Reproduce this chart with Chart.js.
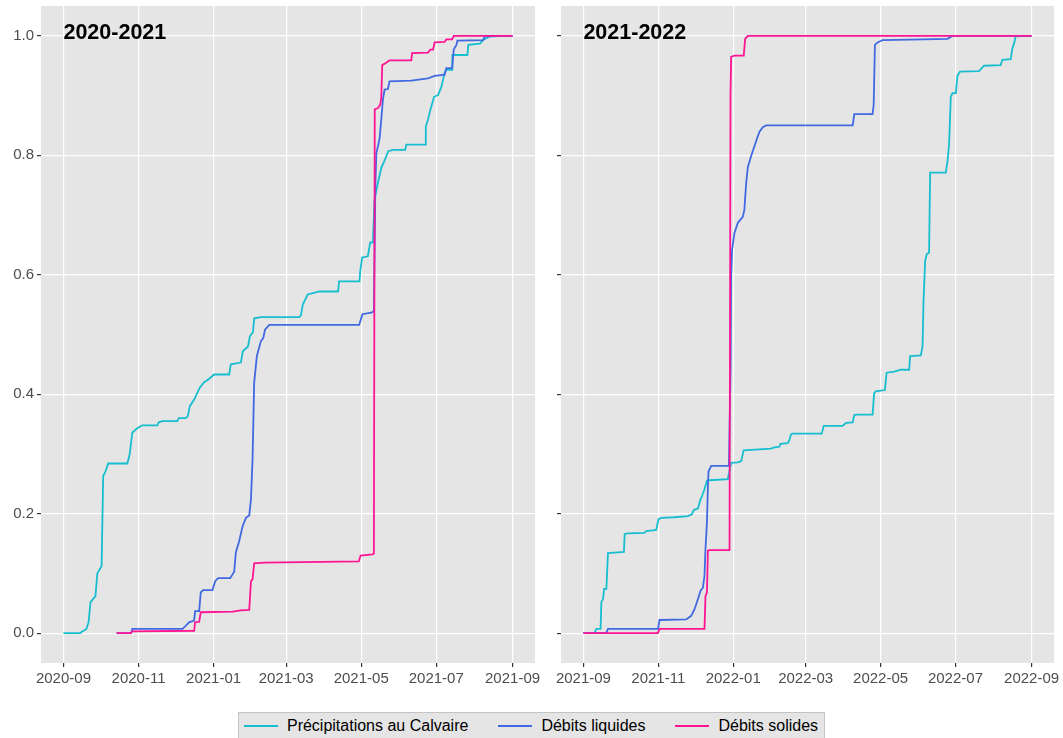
<!DOCTYPE html>
<html lang="fr">
<head>
<meta charset="utf-8">
<title>Cumuls normalisés</title>
<script src="https://cdn.jsdelivr.net/npm/chart.js@4.4.1/dist/chart.umd.min.js"></script>
<style>
  body { margin: 0; background: #fff; font-family: "Liberation Sans", Arial, sans-serif; }
  #wrap { position: relative; width: 1063px; height: 738px; overflow: hidden; }
  #c1 { position: absolute; left: 0; top: 0; }
  #c2 { position: absolute; left: 540px; top: 0; }
  #legend { position: absolute; left: 0; top: 712px; width: 1063px; display: flex; justify-content: center; }
  #legend .box { display: flex; align-items: center; height: 25px; padding: 0 6px 0 5px;
                 background: #E5E5E5; border: 1px solid #C4C4C4; font-size: 16px; color: #000; }
  .item { display: flex; align-items: center; margin-right: 30px; }
  .item:last-child { margin-right: 0; }
  .key { width: 34px; height: 2px; margin-right: 9px; }
</style>
</head>
<body>
<div id="wrap">
  <canvas id="c1" width="550" height="720"></canvas>
  <canvas id="c2" width="523" height="720"></canvas>
  <div id="legend"><div class="box"></div></div>
</div>
<script>
// --- Séries (x : jours depuis le 1er septembre, y : cumul normalisé) ---
const seriesNames = ['Précipitations au Calvaire', 'Débits liquides', 'Débits solides'];
const seriesColors = ['#17BECF', '#4169E1', '#FF1493'];
const yTicks = [0, 0.2, 0.4, 0.6, 0.8, 1.0];

// Saison 2020-2021
const start2021 = '2020-09';
const ticks2021 = ['2020-09', '2020-11', '2021-01', '2021-03', '2021-05', '2021-07', '2021-09'];
const precip2021Jours = [0, 13.9, 14.7, 18.7, 20.4, 22, 26, 27.5, 31, 32.3, 34.2, 36.4, 51.9, 53.8, 56, 60, 64.1, 76.3, 77.4, 80.4,
  92.6, 93.7, 99.4, 101, 102.7, 106.2, 110.8, 114.3, 118, 122.5, 134.7, 136, 144.2, 145.8, 150, 151.5, 154, 155, 160.5, 191.7,
  193, 194.5, 198.5, 208, 223.2, 224, 240.6, 241.2, 242.8, 247.4, 249.3, 251.5, 252.8, 255.6, 258.3, 260.7, 264, 267.8, 277.8, 278.6,
  294.1, 294.5, 296.3, 298.2, 301.2, 304.5, 307.2, 309.8, 311.2, 315.9, 316.1, 328.3, 329.1, 338.4, 341.1, 346.5, 365];
const precip2021 = [0, 0, 0.002, 0.007, 0.018, 0.052, 0.062, 0.100, 0.112, 0.263, 0.271, 0.284, 0.284, 0.299, 0.336, 0.343, 0.348, 0.348, 0.353, 0.355,
  0.355, 0.360, 0.360, 0.363, 0.380, 0.391, 0.411, 0.420, 0.425, 0.433, 0.433, 0.450, 0.453, 0.472, 0.480, 0.497, 0.504, 0.527, 0.529, 0.529,
  0.532, 0.550, 0.567, 0.572, 0.572, 0.589, 0.589, 0.606, 0.629, 0.631, 0.654, 0.654, 0.726, 0.754, 0.779, 0.790, 0.807, 0.809, 0.809, 0.818,
  0.818, 0.848, 0.860, 0.876, 0.898, 0.901, 0.915, 0.938, 0.943, 0.943, 0.968, 0.968, 0.985, 0.987, 0.993, 0.999, 1.0];
const liq2021Jours = [43.2, 55, 56, 96.7, 99.4, 102, 106.2, 107, 110.3, 111.6, 113.5, 121.1, 123.3, 125.7, 135.5, 138.8, 140.1, 142.8, 145.6, 148.3,
  151, 152.4, 153.7, 155, 157.2, 160.5, 162.4, 163.8, 167.3, 240.3, 242, 243, 251, 252.3, 253.5, 254.3, 255.6, 257, 258.3, 259.6,
  261, 263.7, 265, 282.7, 296.3, 301.7, 309.8, 311.2, 315.9, 317.2, 319.4, 320.2, 341.1, 342.4, 365];
const liq2021 = [0, 0, 0.007, 0.007, 0.012, 0.018, 0.021, 0.037, 0.037, 0.068, 0.072, 0.072, 0.087, 0.092, 0.092, 0.103, 0.135, 0.154, 0.179, 0.193,
  0.197, 0.224, 0.291, 0.419, 0.464, 0.489, 0.494, 0.508, 0.516, 0.516, 0.527, 0.534, 0.537, 0.540, 0.75, 0.804, 0.815, 0.829, 0.860, 0.893,
  0.910, 0.911, 0.924, 0.925, 0.929, 0.933, 0.935, 0.946, 0.946, 0.977, 0.985, 0.992, 0.993, 0.999, 1.0];
const sol2021Jours = [43.2, 54.6, 56, 106.2, 107, 110.3, 111.6, 137.5, 144.2, 151, 152.4, 153.7, 155, 163.2, 240, 241.5, 251, 252.3, 253, 255.6,
  257.5, 258.3, 259.1, 262.3, 265, 282.7, 283.3, 296.3, 298.2, 300.4, 301.7, 309.8, 311.2, 315.9, 317.2, 365];
const sol2021 = [0, 0, 0.003, 0.004, 0.018, 0.019, 0.035, 0.036, 0.038, 0.039, 0.087, 0.090, 0.117, 0.118, 0.120, 0.130, 0.132, 0.133, 0.877, 0.879,
  0.885, 0.896, 0.951, 0.955, 0.959, 0.959, 0.971, 0.972, 0.977, 0.977, 0.989, 0.990, 0.994, 0.994, 1.0, 1.0];

// Saison 2021-2022
const start2022 = '2021-09';
const ticks2022 = ['2021-09', '2021-11', '2022-01', '2022-03', '2022-05', '2022-07', '2022-09'];
const precip2022Jours = [0, 9.2, 10.6, 14, 14.6, 16, 16.8, 18.7, 20, 33, 33.6, 36.3, 49.8, 51.2, 59.3, 61.2, 63.4, 74.2, 85.1, 88.4,
  89.7, 93.3, 95.4, 96.7, 98.6, 100.6, 102.7, 117.6, 120.3, 125.8, 128.5, 130.5, 152.8, 155.5, 159.6, 160.4, 166.4, 167.7, 169.1, 170.5,
  194.1, 195.7, 211.1, 213.8, 219.3, 220.6, 222, 235.5, 236.8, 238.2, 245.5, 246.9, 253.1, 258.5, 265.3, 266.1, 274.8, 276.2, 277, 278.3,
  279.7, 281.5, 282.4, 295.1, 296.5, 297.8, 299.2, 300.6, 303.3, 304.6, 306.7, 322.2, 326.3, 339.8, 341.2, 348, 349.3, 350.7, 352, 365];
const precip2022 = [0, 0.001, 0.007, 0.007, 0.052, 0.057, 0.074, 0.074, 0.134, 0.136, 0.166, 0.167, 0.168, 0.171, 0.173, 0.191, 0.193, 0.194, 0.196, 0.199,
  0.206, 0.209, 0.224, 0.230, 0.241, 0.255, 0.256, 0.258, 0.285, 0.286, 0.288, 0.306, 0.309, 0.311, 0.312, 0.317, 0.318, 0.323, 0.333, 0.334,
  0.334, 0.347, 0.347, 0.352, 0.353, 0.365, 0.366, 0.366, 0.402, 0.405, 0.407, 0.436, 0.438, 0.441, 0.441, 0.464, 0.465, 0.480, 0.556, 0.623,
  0.635, 0.637, 0.771, 0.771, 0.790, 0.818, 0.898, 0.904, 0.904, 0.933, 0.940, 0.941, 0.950, 0.951, 0.960, 0.961, 0.979, 0.987, 0.999, 1.0];
const liq2022Jours = [0, 18.7, 20, 60.7, 62, 83.7, 87.8, 90.5, 93.3, 95.4, 97.3, 98.6, 99.4, 100.6, 101.4, 101.9, 104.1, 118.5, 119.9, 120.3,
  121.1, 123, 125.8, 129.8, 131.1, 132.5, 133.9, 136.6, 140.7, 143.3, 146.1, 148.8, 219.3, 220.6, 235.5, 236.4, 237.4, 239.6, 243.7, 277.5,
  296.5, 300.6, 365];
const liq2022 = [0, 0.001, 0.007, 0.007, 0.022, 0.023, 0.029, 0.040, 0.057, 0.071, 0.076, 0.096, 0.140, 0.185, 0.246, 0.271, 0.280, 0.280, 0.45, 0.60,
  0.642, 0.670, 0.687, 0.697, 0.709, 0.752, 0.780, 0.799, 0.824, 0.839, 0.847, 0.850, 0.850, 0.869, 0.869, 0.885, 0.985, 0.989, 0.993, 0.994,
  0.995, 1.0, 1.0];
const sol2022Jours = [0, 60.7, 62, 98.6, 99.4, 100.6, 101.4, 102.7, 119, 119.8, 120.3, 123, 130.6, 131.7, 133.9, 365];
const sol2022 = [0, 0, 0.007, 0.007, 0.062, 0.068, 0.138, 0.139, 0.139, 0.90, 0.965, 0.967, 0.967, 0.995, 1.0, 1.0];

// --- Helpers ---
Chart.defaults.font.family = '"Liberation Sans", Arial, sans-serif';

const PANEL_TOP = 6;      // top of grey panels on the page
const PANEL_BOTTOM = 663; // bottom of grey panels on the page

function monthOffset(label, start) {
    const [y, m] = label.split('-').map(Number);
    const [sy, sm] = start.split('-').map(Number);
    return (Date.UTC(y, m - 1, 1) - Date.UTC(sy, sm - 1, 1)) / 86400000;
}

// grey panel background (ggplot-like)
const panelBg = {
    id: 'panelBg',
    beforeDraw(chart) {
        const { ctx, chartArea: a } = chart;
        ctx.save();
        ctx.fillStyle = '#E5E5E5';
        ctx.fillRect(a.left, a.top, a.width, a.height);
        ctx.restore();
    }
};

// season label, placed at (start of season, 1.0)
const panelTitle = {
    id: 'panelTitle',
    afterDatasetsDraw(chart, args, opts) {
        const { ctx, scales } = chart;
        ctx.save();
        ctx.font = 'bold 21.5px "Liberation Sans", Arial, sans-serif';
        ctx.fillStyle = '#000';
        ctx.textAlign = 'left';
        ctx.textBaseline = 'middle';
        ctx.fillText(opts.text, scales.x.getPixelForValue(0), scales.y.getPixelForValue(1) - 2.5);
        ctx.restore();
    }
};

function makeChart(id, title, start, tickLabels, series, showYLabels, yWidth, padRight) {
    const canvas = document.getElementById(id);
    const tickDays = tickLabels.map(l => monthOffset(l, start));
    const span = tickDays[tickDays.length - 1] - tickDays[0];
    const gridOpts = { color: '#FFFFFF', lineWidth: 1.2, tickColor: '#333333', tickLength: 4, tickWidth: 1.2 };
    let xAxisH = 37;

    const datasets = series.map((s, i) => ({
        label: seriesNames[i],
        data: s[0].map((d, k) => ({ x: d, y: s[1][k] })),
        borderColor: seriesColors[i],
        borderWidth: 1.8,
        pointRadius: 0,
        tension: 0,
        order: series.length - 1 - i
    }));

    const chart = new Chart(canvas, {
        type: 'line',
        data: { datasets: datasets },
        options: {
            responsive: false,
            animation: false,
            layout: { padding: { top: 0, right: padRight, left: 0, bottom: 0 } },
            plugins: {
                legend: { display: false },
                tooltip: { enabled: false },
                panelTitle: { text: title }
            },
            scales: {
                x: {
                    type: 'linear',
                    min: -0.05 * span,
                    max: 1.05 * span,
                    afterBuildTicks: sc => { sc.ticks = tickDays.map(v => ({ value: v })); },
                    afterFit: sc => { sc.height = xAxisH; },
                    ticks: { autoSkip: false, maxRotation: 0, color: '#4D4D4D', font: { size: 15 }, padding: 3,
                             callback: (v, i) => tickLabels[i] },
                    grid: gridOpts,
                    border: { display: false }
                },
                y: {
                    min: -0.05,
                    max: 1.05,
                    afterBuildTicks: sc => { sc.ticks = yTicks.map(v => ({ value: v })); },
                    afterFit: sc => { sc.width = yWidth; },
                    ticks: { color: '#4D4D4D', font: { size: 15 }, padding: 3,
                             callback: v => showYLabels ? v.toFixed(1) : '' },
                    grid: gridOpts,
                    border: { display: false }
                }
            }
        },
        plugins: [panelBg, panelTitle]
    });

    // Chart.js reserves room above for the top tick label; shift the canvas up
    // and size the x axis so the panel spans PANEL_TOP..PANEL_BOTTOM on the page
    const shift = Math.round(PANEL_TOP - chart.chartArea.top);
    canvas.style.top = shift + 'px';
    xAxisH = canvas.height - (PANEL_BOTTOM - shift);
    chart.update();
    return chart;
}

makeChart('c1', '2020-2021', start2021, ticks2021,
    [[precip2021Jours, precip2021], [liq2021Jours, liq2021], [sol2021Jours, sol2021]], true, 41, 15);
makeChart('c2', '2021-2022', start2022, ticks2022,
    [[precip2022Jours, precip2022], [liq2022Jours, liq2022], [sol2022Jours, sol2022]], false, 21, 9);

// --- Legend ---
const box = document.querySelector('#legend .box');
seriesNames.forEach((name, i) => {
    const item = document.createElement('div');
    item.className = 'item';
    const key = document.createElement('span');
    key.className = 'key';
    key.style.background = seriesColors[i];
    const txt = document.createElement('span');
    txt.textContent = name;
    item.appendChild(key);
    item.appendChild(txt);
    box.appendChild(item);
});
</script>
</body>
</html>
